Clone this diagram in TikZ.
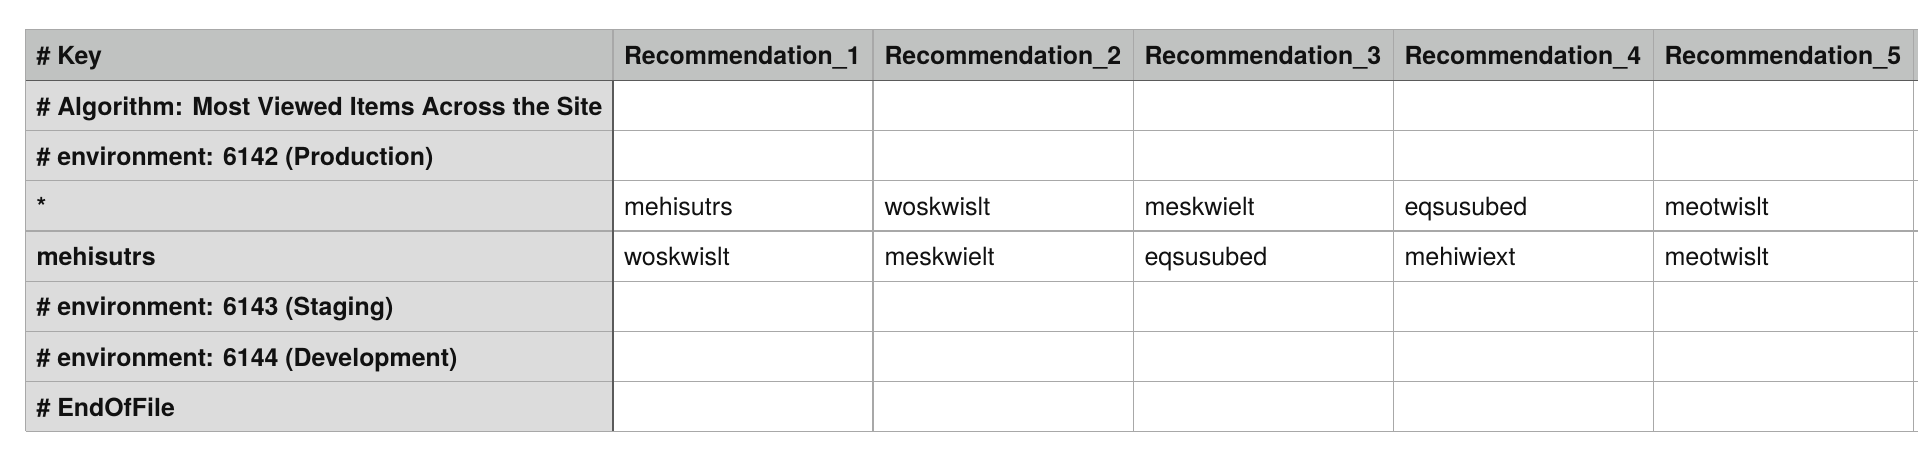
\documentclass[tikz,border=0pt]{standalone}
\usepackage{fontspec}
\setmainfont{TeX Gyre Heros}
\definecolor{hdrfill}{HTML}{C0C2C1}
\definecolor{keyfill}{HTML}{DCDCDC}
\definecolor{gridline}{HTML}{A8A8A8}
\definecolor{darkline}{HTML}{5A5A5A}
\definecolor{txt}{HTML}{111111}
\tikzset{
  celltext/.style={anchor=base west, inner sep=0pt, outer sep=0pt, text=txt,
    font=\fontsize{12.55}{14}\selectfont},
  boldtext/.style={celltext, font=\fontsize{12.45}{14}\selectfont\bfseries},
  gridrule/.style={draw=gridline, line width=0.6pt},
  darkrule/.style={draw=darkline, line width=0.75pt},
}
\begin{document}
\begin{tikzpicture}[x=0.5pt,y=-0.5pt]
\useasboundingbox (0,0) rectangle (1918,454);
\fill[white] (0,0) rectangle (1918,454);
% fills
\fill[hdrfill] (25.5,29.3) rectangle (1918,80.3);
\fill[keyfill] (25.5,80.3) rectangle (613,431.3);
% horizontal grid lines
\foreach \y in {29.3,130.5,180.7,231.0,281.2,331.4,381.6,431.3}
  \draw[gridrule] (25.5,\y) -- (1918,\y);
% vertical grid lines
\foreach \x in {25.5,873,1133.5,1393.5,1653.5,1913.5}
  \draw[gridrule] (\x,29.3) -- (\x,431.3);
\draw[gridrule] (613,29.3) -- (613,80.3);
% dark rules
\draw[darkrule] (25.5,80.3) -- (1918,80.3);
\draw[darkrule] (613,80.3) -- (613,431.3);
% header
\node[boldtext] (h0) at (36.5,64.2) {\# Key};
\foreach \i/\x in {1/624,2/884.5,3/1144.5,4/1404.5,5/1664.5}
  \node[boldtext] (h\i) at (\x,64.2) {Recommendation\_\i};
% key column
\node[boldtext] (k1) at (36.5,115.2) {\# Algorithm: Most Viewed Items Across the Site};
\node[boldtext] (k2) at (36.5,165.4) {\# environment: 6142 (Production)};
\node[boldtext] (k3) at (36.5,215.6) {*};
\node[boldtext] (k4) at (36.5,265.8) {mehisutrs};
\node[boldtext] (k5) at (36.5,316.0) {\# environment: 6143 (Staging)};
\node[boldtext] (k6) at (36.5,366.2) {\# environment: 6144 (Development)};
\node[boldtext] (k7) at (36.5,416.4) {\# EndOfFile};
% data row *
\foreach \i/\x/\t in {1/624/mehisutrs,2/884.5/woskwislt,3/1144.5/meskwielt,4/1404.5/eqsusubed,5/1664.5/meotwislt}
  \node[celltext] (da\i) at (\x,215.6) {\t};
% data row mehisutrs
\foreach \i/\x/\t in {1/624/woskwislt,2/884.5/meskwielt,3/1144.5/eqsusubed,4/1404.5/mehiwiext,5/1664.5/meotwislt}
  \node[celltext] (db\i) at (\x,265.8) {\t};
\end{tikzpicture}
\end{document}
